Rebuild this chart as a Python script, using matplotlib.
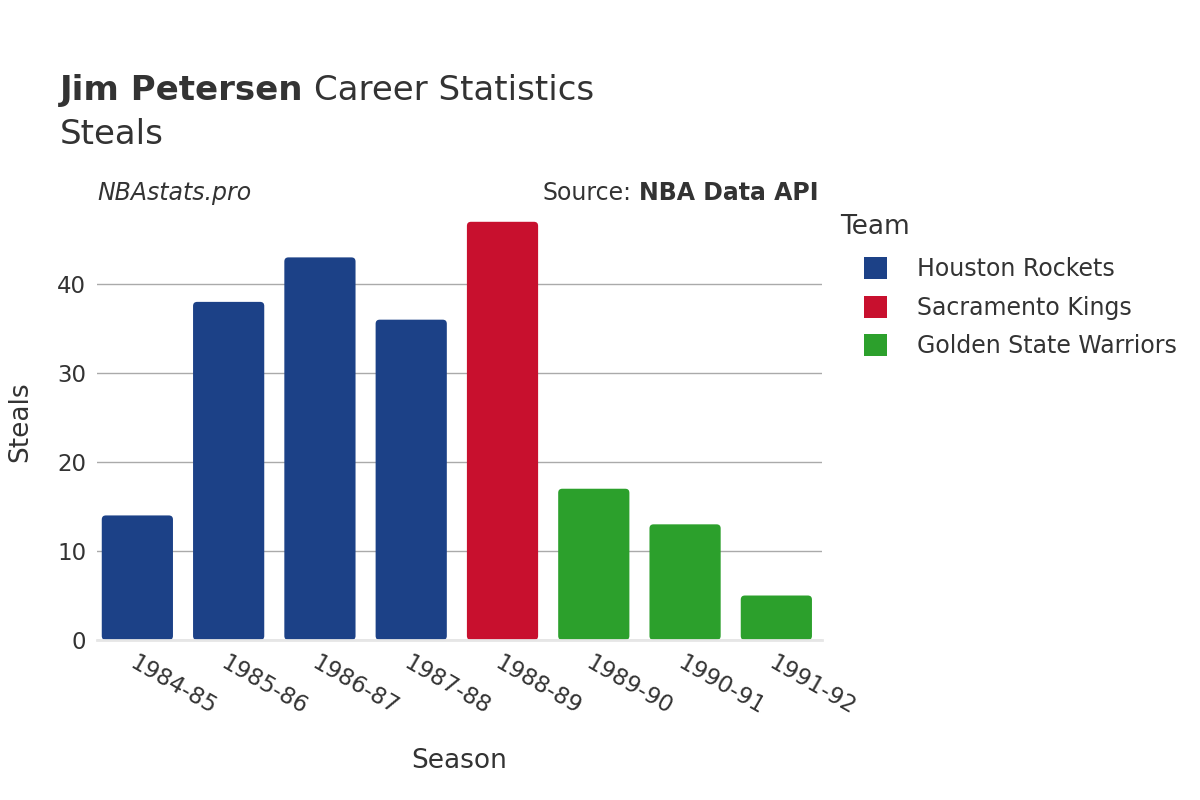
import matplotlib.pyplot as plt
from matplotlib.patches import Patch, FancyBboxPatch

seasons = ['1984-85', '1985-86', '1986-87', '1987-88', '1988-89', '1989-90', '1990-91', '1991-92']
steals = [14, 38, 43, 36, 47, 17, 13, 5]
teams = ['Houston Rockets', 'Houston Rockets', 'Houston Rockets', 'Houston Rockets',
         'Sacramento Kings', 'Golden State Warriors', 'Golden State Warriors', 'Golden State Warriors']
team_order = ['Houston Rockets', 'Sacramento Kings', 'Golden State Warriors']
team_colors = {'Houston Rockets': '#1c4187', 'Sacramento Kings': '#c8102e', 'Golden State Warriors': '#2ca02c'}

txt = '#333333'
plt.rcParams['font.family'] = ['DejaVu Sans']

fig = plt.figure(figsize=(12, 8), dpi=100)
ax = fig.add_axes([0.081, 0.2, 0.604, 0.545])

x = list(range(len(seasons)))
bars = ax.bar(x, steals, width=0.78, color=[team_colors[t] for t in teams], zorder=3)
# rounded corners
for b in bars:
    b.set_visible(False)
    rb = FancyBboxPatch((b.get_x(), b.get_y()), b.get_width(), b.get_height(),
                        boxstyle='round,pad=0,rounding_size=0.045', mutation_aspect=10.2,
                        facecolor=b.get_facecolor(), edgecolor='none', zorder=3)
    ax.add_patch(rb)

ax.set_ylim(0, 49)
ax.set_xlim(-0.44, len(seasons) - 0.5)
ax.set_yticks([0, 10, 20, 30, 40])
ax.yaxis.grid(True, color='#aaaaaa', linewidth=1, zorder=0)
for s in ['top', 'right', 'left']:
    ax.spines[s].set_visible(False)
ax.spines['bottom'].set_color('#e6e6e6')
ax.spines['bottom'].set_linewidth(2)
ax.spines['bottom'].set_zorder(4)
ax.tick_params(axis='both', length=0, labelsize=16.5, colors=txt, pad=8)
ax.set_xticks(x)
ax.set_xticklabels(seasons, rotation=-30, ha='left', rotation_mode='anchor')
ax.set_xlabel('Season', fontsize=19, color=txt, labelpad=21)
ax.set_ylabel('Steals', fontsize=19, color=txt, labelpad=17)

t1 = fig.text(0.05, 0.875, 'Jim Petersen', fontsize=24.5, fontweight='bold', color=txt)
fig.canvas.draw()
bb = t1.get_window_extent()
fig.text(bb.x1 / 1200 + 0.009, 0.875, 'Career Statistics', fontsize=24.5, color=txt)
fig.text(0.05, 0.82, 'Steals', fontsize=24.5, color=txt)
fig.text(0.081, 0.75, 'NBAstats.pro', fontsize=17, style='italic', color=txt)
t2 = fig.text(0.682, 0.75, 'NBA Data API', fontsize=17, fontweight='bold', color=txt, ha='right')
fig.canvas.draw()
bb2 = t2.get_window_extent()
fig.text(bb2.x0 / 1200 - 0.006, 0.75, 'Source:', fontsize=17, color=txt, ha='right')

fig.text(0.7, 1 - 227 / 800, 'Team', fontsize=19, color=txt, va='center')
handles = [Patch(facecolor=team_colors[t], label=t) for t in team_order]
leg = fig.legend(handles=handles, loc='upper left', bbox_to_anchor=(0.712, 1 - 248 / 800),
                 frameon=False, fontsize=17, handlelength=1.0, borderaxespad=0,
                 handleheight=1.05, handletextpad=1.25, labelspacing=0.6, alignment='left')
for t in leg.get_texts():
    t.set_color(txt)

fig.savefig('out.png')
